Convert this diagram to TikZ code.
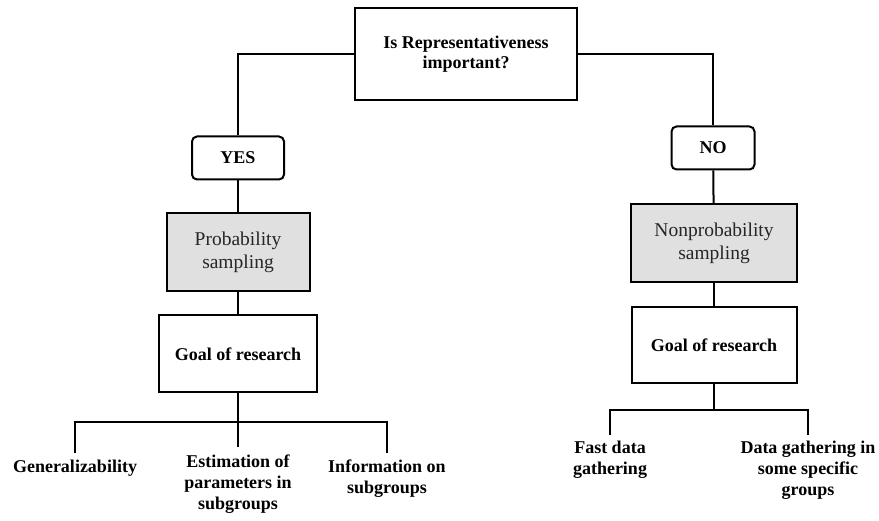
\documentclass[tikz,border=0pt]{standalone}
\usepackage{fontspec}
\setmainfont{Liberation Serif}
\usetikzlibrary{calc}
\begin{document}
\begin{tikzpicture}[x=1pt,y=-1pt,
  box/.style={draw=black,line width=2pt,minimum width=#1,align=center,inner sep=2pt},
  boldtxt/.style={font=\fontsize{18}{20.5}\selectfont\bfseries},
  answer/.style={box=#1,rounded corners=5pt,boldtxt,minimum height=43pt},
  sampling/.style={box=#1,fill=black!12,text=black!85,
    font=\fontsize{19.5}{23}\selectfont,minimum height=78pt},
  goal/.style={box=#1,boldtxt,minimum height=77pt},
  leaf/.style={anchor=north,align=center,inner sep=1pt,
    font=\fontsize{18}{21}\selectfont\bfseries},
  link/.style={line width=2pt}]
\useasboundingbox (0,0) rectangle (879,521);

% question at the top
\node[box=222pt,boldtxt,minimum height=92pt] (q) at (466,54)
  {Is Representativeness\\important?};

% the two answers
\node[answer=92pt] (yes) at (238,158) {YES};
\node[answer=83pt] (no) at (713,148) {NO};

% sampling types
\node[sampling=143pt] (prob) at (238,252) {Probability\\sampling};
\node[sampling=166pt] (nonprob) at (714,243) {Nonprobability\\sampling};

% goals
\node[goal=158pt] (goalL) at (238,354) {Goal of research};
\node[goal=165pt,minimum height=76pt] (goalR) at (714,345) {Goal of research};

% leaves on the left
\node[leaf] (gen) at (75,459) {Generalizability};
\node[leaf] (est) at (238,454) {Estimation of\\parameters in\\subgroups};
\node[leaf] (info) at (387,459) {Information on\\subgroups};

% leaves on the right
\node[leaf] (fast) at (610,440) {Fast data\\gathering};
\node[leaf] (spec) at (808,440) {Data gathering in\\some specific\\groups};

% connectors
\draw[link] (q.west) -| (yes.north);
\draw[link] (q.east) -| (no.north);
\draw[link] (yes) -- (prob);
\draw[link] (no) -- (nonprob);
\draw[link] (prob) -- (goalL);
\draw[link] (nonprob) -- (goalR);

\coordinate (forkL) at ($(goalL.south)+(0,29)$);
\draw[link] (goalL.south) -- (forkL);
\draw[link] (forkL) -| ([yshift=6pt]gen.north);
\draw[link] (forkL) -| ([yshift=6pt]info.north);
\draw[link] (forkL) -- ([yshift=7pt]est.north);

\coordinate (forkR) at ($(goalR.south)+(0,26)$);
\draw[link] (goalR.south) -- (forkR);
\draw[link] (forkR) -| ([yshift=5pt]fast.north);
\draw[link] (forkR) -| ([yshift=5pt]spec.north);
\end{tikzpicture}
\end{document}
